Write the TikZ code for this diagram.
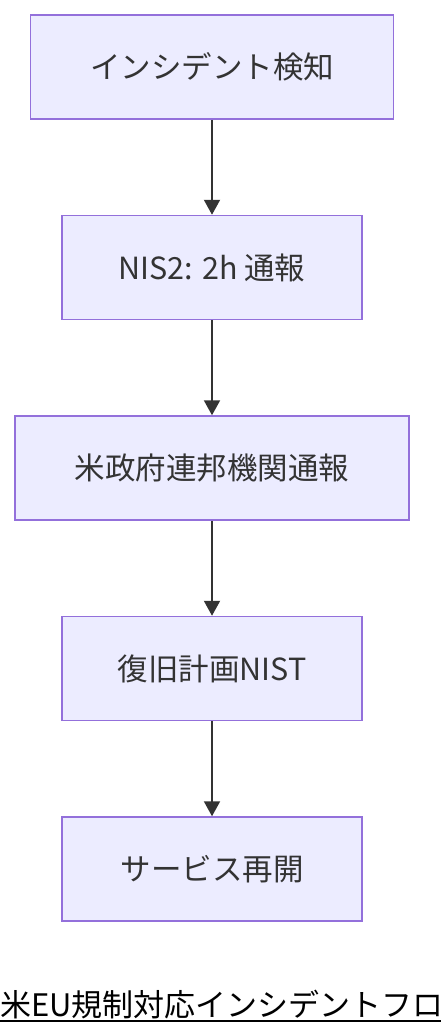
\documentclass[tikz,border=0pt]{standalone}
\usepackage{fontspec}
\setmainfont{Noto Sans CJK JP}
\usepackage{tikz}
\usetikzlibrary{arrows.meta}
\usetikzlibrary{positioning}
\definecolor{boxfill}{HTML}{ECECFF}
\definecolor{boxline}{HTML}{9370DB}
\definecolor{ink}{HTML}{333333}
\tikzset{
    flow nodes/.style={
        draw=boxline,
        fill=boxfill,
        line width=1.5pt,
        text=ink,
        align=center,
        minimum height=104pt,
        minimum width =300pt,
        font=\fontsize{30.5pt}{34pt}\selectfont
    },
    flow arrow/.style={
        -{Triangle[length=15pt,width=16pt]},
        draw=ink,
        line width=2pt
    }
}

\begin{document}
\begin{tikzpicture}[node distance=95pt]
  \useasboundingbox (0,0) rectangle (440pt,-1036pt);
  \node[flow nodes,minimum width=363pt] (detect) at (212pt,-67pt) {インシデント検知};
  \node[flow nodes,below=of detect] (nis) {NIS2: 2h 通報};
  \node[flow nodes,minimum width=394pt,below=of nis] (fed) {米政府連邦機関通報};
  \node[flow nodes,below=of fed] (recover) {復旧計画NIST};
  \node[flow nodes,below=of recover] (resume) {サービス再開};
  \foreach \s/\t in {detect/nis,nis/fed,fed/recover,recover/resume}
    \draw[flow arrow] (\s.south) -- (\t.north);
  \node[anchor=base west,inner sep=0pt,font=\fontsize{31pt}{34pt}\selectfont] (title) at (0pt,-1016pt) {米EU規制対応インシデントフロー};
  \draw[line width=2pt] ([yshift=-5pt]title.base west) -- ([yshift=-5pt]title.base east);
\end{tikzpicture}
\end{document}
